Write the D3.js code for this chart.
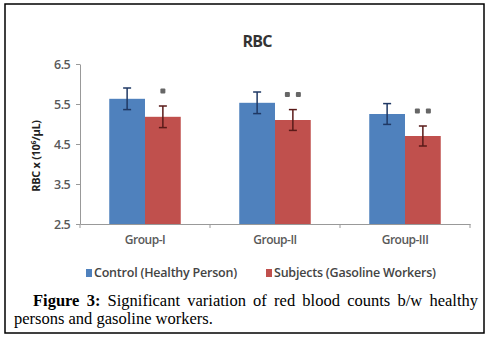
<!DOCTYPE html>
<html><head><meta charset="utf-8">
<script src="https://cdn.jsdelivr.net/npm/d3@7"></script>
<style>body{margin:0;background:#fff}</style>
</head><body>
<script>
const categories = ["Group-I", "Group-II", "Group-III"];
const seriesNames = ["Control (Healthy Person)", "Subjects (Gasoline Workers)"];
const controlValues = [5.63, 5.53, 5.25];
const controlErrors = [0.27, 0.27, 0.26];
const subjectValues = [5.18, 5.1, 4.7];
const subjectErrors = [0.27, 0.26, 0.25];
const significance = ["*", "**", "**"];
const yTicks = [2.5, 3.5, 4.5, 5.5, 6.5];

const W = 490, H = 346;
const svg = d3.select("body").append("svg").attr("width", W).attr("height", H);
svg.append("rect").attr("width", W).attr("height", H).attr("fill", "#fff");
svg.append("rect").attr("x", 5).attr("y", 4).attr("width", 479).attr("height", 329)
  .attr("fill", "none").attr("stroke", "#000").attr("stroke-width", 1.5);

const colors = ["#4F81BD", "#C0504D"];
const errColors = ["#1F3864", "#5A1A18"];
const sans = "Open Sans, sans-serif";

const x0 = d3.scaleBand().domain(categories).range([80, 470]).paddingInner(0.45).paddingOuter(0.225);
const x1 = d3.scaleBand().domain([0, 1]).range([0, x0.bandwidth()]);
const y = d3.scaleLinear().domain([2.5, 6.5]).range([224, 64]);

// title
svg.append("text").attr("x", 257).attr("y", 47).attr("text-anchor", "middle")
  .attr("font-family", sans).attr("font-weight", "bold").attr("font-size", 16)
  .attr("letter-spacing", -0.8).attr("fill", "#333").text("RBC");

// y axis
const yAxis = d3.axisLeft(y).tickValues(yTicks).tickFormat(d3.format(".1f")).tickSize(4).tickSizeOuter(0);
const gy = svg.append("g").attr("transform", "translate(80,0)").call(yAxis);
gy.select(".domain").attr("stroke", "#999");
gy.selectAll(".tick line").attr("stroke", "#999");
gy.selectAll(".tick text").attr("font-family", sans).attr("font-size", 12.5).attr("font-weight", 600)
  .attr("letter-spacing", -0.6).attr("fill", "#595959").attr("x", -10);

// x axis
const gx = svg.append("g").attr("transform", "translate(0,224)")
  .call(d3.axisBottom(x0).tickSize(0).tickSizeOuter(0));
gx.select(".domain").attr("stroke", "#999");
gx.selectAll(".tick text").attr("font-family", sans).attr("font-size", 12).attr("font-weight", 600)
  .attr("letter-spacing", -0.5).attr("fill", "#595959").attr("dy", "1.45em");
// category separators
const sep = [80].concat(categories.map(c => x0(c) + x0.bandwidth() + x0.step() * x0.paddingInner() / 2));
svg.selectAll(".sep").data(sep).enter().append("line")
  .attr("x1", d => d).attr("x2", d => d).attr("y1", 224).attr("y2", 228).attr("stroke", "#999");

// y label
svg.append("text").attr("transform", "translate(40,156) rotate(-90)").attr("text-anchor", "middle")
  .attr("font-family", sans).attr("font-weight", "bold").attr("font-size", 11)
  .attr("letter-spacing", -0.3).attr("fill", "#222")
  .html("RBC x (10<tspan dy='-4' font-size='7'>6</tspan><tspan dy='4'>/µL)</tspan>");

const series = [controlValues, subjectValues];
const errs = [controlErrors, subjectErrors];
series.forEach((vals, s) => {
  const g = svg.append("g");
  g.selectAll("rect").data(categories).enter().append("rect")
    .attr("x", c => x0(c) + x1(s)).attr("width", x1.bandwidth())
    .attr("y", (c, i) => y(vals[i])).attr("height", (c, i) => y(2.5) - y(vals[i]))
    .attr("fill", colors[s]);
  categories.forEach((c, i) => {
    const cx = x0(c) + x1(s) + x1.bandwidth() / 2;
    const top = y(vals[i] + errs[s][i]), bot = y(vals[i] - errs[s][i]);
    g.append("line").attr("x1", cx).attr("x2", cx).attr("y1", top).attr("y2", bot).attr("stroke", errColors[s]).attr("stroke-width", 1.5);
    [top, bot].forEach(yy => g.append("line").attr("x1", cx - 4).attr("x2", cx + 4).attr("y1", yy).attr("y2", yy).attr("stroke", errColors[s]).attr("stroke-width", 1.5));
  });
});

// significance stars (drawn as small dark squares, as in the reference)
categories.forEach((c, i) => {
  const cx = x0(c) + x1(1) + x1.bandwidth() / 2;
  const n = significance[i].length;
  const cy = y(subjectValues[i] + subjectErrors[i]) - 15;
  for (let k = 0; k < n; k++) {
    const px = cx + (k - (n - 1) / 2) * 11;
    svg.append("rect").attr("x", px - 2.5).attr("y", cy - 2.5).attr("width", 5).attr("height", 5)
      .attr("rx", 1).attr("fill", "#666");
  }
});

// legend
const legendX = [86, 266];
seriesNames.forEach((n, s) => {
  svg.append("rect").attr("x", legendX[s]).attr("y", 269).attr("width", 6).attr("height", 8).attr("fill", colors[s]);
  svg.append("text").attr("x", legendX[s] + 8).attr("y", 277)
    .attr("font-family", sans).attr("font-size", 12.5).attr("font-weight", 600).attr("fill", "#444")
    .attr("letter-spacing", -0.22).text(n);
});

// caption (justified first line)
const font = "Liberation Serif, Times New Roman, serif";
const line1 = [["Figure", true], ["3:", true], ["Significant", false], ["variation", false], ["of", false], ["red", false], ["blood", false], ["counts", false], ["b/w", false], ["healthy", false]];
const lx0 = 33, lx1 = 478;
const tmp = line1.map(([w, b]) => svg.append("text").attr("y", 306).attr("font-family", font).attr("font-size", 16.5)
  .attr("font-weight", b ? "bold" : "normal").attr("fill", "#000").text(w));
const widths = tmp.map(t => t.node().getComputedTextLength());
const gap = (lx1 - lx0 - d3.sum(widths)) / (line1.length - 1);
let cx = lx0;
tmp.forEach((t, i) => { t.attr("x", cx); cx += widths[i] + gap; });
svg.append("text").attr("x", 14).attr("y", 324).attr("font-family", font).attr("font-size", 16.5)
  .attr("fill", "#000").text("persons and gasoline workers.");
</script>
</body></html>
